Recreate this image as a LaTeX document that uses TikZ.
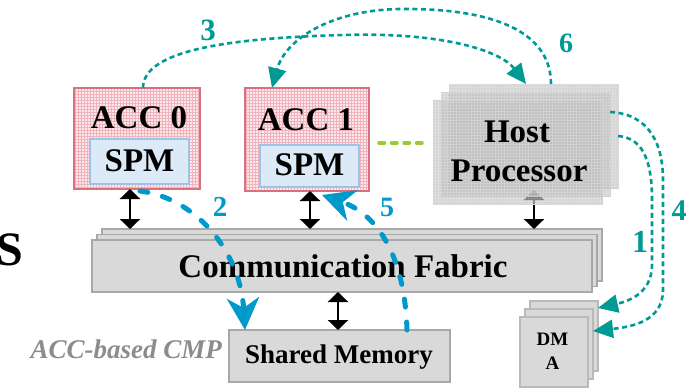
\documentclass[tikz,border=0pt]{standalone}
\usepackage{fontspec}
\setmainfont{Liberation Serif}
\usetikzlibrary{arrows.meta,patterns,calc}

\definecolor{accfill}{HTML}{FCE8EB}
\definecolor{accgrid}{HTML}{F0B2BB}
\definecolor{accedge}{HTML}{D9707E}
\definecolor{spmfill}{HTML}{DCE9F6}
\definecolor{spmedge}{HTML}{9DC3E6}
\definecolor{hostgray}{HTML}{BDBDBD}
\definecolor{hostedge}{HTML}{D0D0D0}
\definecolor{slabfill}{HTML}{D9D9D9}
\definecolor{slabedge}{HTML}{A8A8A8}
\definecolor{tealc}{HTML}{009A94}
\definecolor{bluec}{HTML}{0099CC}
\definecolor{greenc}{HTML}{99CC33}
\definecolor{capgray}{HTML}{8C8C8C}

\begin{document}
\begin{tikzpicture}[x=1pt,y=-1pt,
  box/.style={rectangle, inner sep=0pt, outer sep=0pt},
  acc/.style={box, draw=accedge, line width=1.3pt, preaction={fill=accfill}, pattern=grid, pattern color=accgrid},
  spm/.style={box, draw=spmedge, line width=1.3pt, fill=spmfill},
  hostlayer/.style={box, draw=hostedge, line width=1pt, fill=hostgray, fill opacity=0.63},
  hostgrid/.style={white, line width=0.35pt, opacity=0.2},
  slab/.style={box, draw=slabedge, line width=1.3pt, fill=slabfill},
  big/.style={inner sep=0pt, anchor=base, font=\fontsize{33}{36}\selectfont\bfseries},
  num/.style={inner sep=0pt, font=\fontsize{30}{32}\selectfont\bfseries},
  bidir/.style={line width=2.6pt, {Triangle[length=10pt,width=20pt]}-{Triangle[length=10pt,width=20pt]}},
  ctrl/.style={draw=tealc, line width=2.6pt, dash pattern=on 5pt off 3.5pt, -{Triangle[length=20pt,width=18pt]}},
  data/.style={draw=bluec, line width=5pt, line cap=round, dash pattern=on 8pt off 15pt, -{Stealth[length=32pt 0 0,width=32pt 0,inset=10pt 0]}},
  link/.style={draw=greenc, line width=3.5pt, line cap=round, dash pattern=on 5.5pt off 7pt}
]
\useasboundingbox (0,0) rectangle (688,388);

% accelerators with their scratch-pad memories
\node[acc, minimum width=126pt, minimum height=101pt] (acc0) at (137,138.5) {};
\node[spm, minimum width=99pt, minimum height=45pt] (spm0) at (139.5,161.5) {};
\node[big] (t0) at (139,128) {ACC 0};
\node[big] (ts0) at (139.5,171) {SPM};

\node[acc, minimum width=124pt, minimum height=103pt] (acc1) at (307,139.5) {};
\node[spm, minimum width=99pt, minimum height=42pt] (spm1) at (309.5,166) {};
\node[big] (t1) at (306,130) {ACC 1};
\node[big] (ts1) at (309.5,175) {SPM};

% communication fabric (stacked slabs)
\node[slab, minimum width=500pt, minimum height=52pt] (c3) at (352,255) {};
\node[slab, minimum width=500pt, minimum height=52pt] (c2) at (347,260.5) {};
\node[slab, minimum width=500pt, minimum height=52pt] (c1) at (342,266) {};
\node[big] (tcf) at (343,277) {Communication Fabric};

% shared memory
\node[slab, minimum width=221pt, minimum height=52pt] (shm) at (339.5,356) {};
\node[inner sep=0pt, anchor=base, font=\fontsize{27}{30}\selectfont\bfseries] (tshm) at (339,363) {Shared Memory};

% DMA (stacked)
\node[slab, draw=slabedge!80, minimum width=68pt, minimum height=70pt] (d3) at (564,336) {};
\node[slab, draw=slabedge!80, minimum width=68pt, minimum height=70pt] (d2) at (559,344) {};
\node[slab, draw=slabedge!80, minimum width=68pt, minimum height=70pt] (d1) at (554,352) {};
\node[inner sep=0pt, anchor=base, font=\fontsize{19}{21}\selectfont\bfseries] (tdm) at (552.5,345) {DM};
\node[inner sep=0pt, anchor=base, font=\fontsize{19}{21}\selectfont\bfseries] (ta) at (552.5,369) {A};

% caption and cut-off letter
\node[inner sep=0pt, anchor=base east, font=\fontsize{27}{30}\selectfont\bfseries\itshape, text=capgray] (cap) at (222,358) {ACC-based CMP};
\node[inner sep=0pt, anchor=base east, font=\fontsize{48}{50}\selectfont\bfseries] (tail) at (23,265) {S};

% vertical links to the fabric
\coordinate (xa) at (130,0);
\coordinate (xb) at (310,0);
\coordinate (xc) at (338,0);
\coordinate (xd) at (534,0);
\draw[bidir] (acc0.south -| xa) -- (c3.north -| xa);
\draw[bidir] (acc1.south -| xb) -- (c3.north -| xb);
\draw[bidir] (c1.south -| xc) -- (shm.north -| xc);
\draw[bidir] (534,190) -- (c3.north -| xd);

% host processor (stacked, translucent, gridded)
\foreach \n/\cx/\cy in {h3/533.5/136, h2/525.5/144, h1/517.5/152}{
  \node[hostlayer, minimum width=169pt, minimum height=104pt] (\n) at (\cx,\cy) {};
  \draw[hostgrid, step=3pt] (\n.south west) grid (\n.north east);
}
\node[big] (th1) at (517,142) {Host};
\node[big] (th2) at (519,181) {Processor};

% dotted link between ACC 1 and the host
\coordinate (ylink) at (0,143);
\draw[link, shorten <=10pt, shorten >=9pt] (acc1.east |- ylink) -- (h1.west |- ylink);

% control flow (teal)
\coordinate (w3) at (344,35);
\coordinate (w6) at (400,9);
\coordinate (w1a) at (652,200);
\coordinate (w1b) at (652,265);
\coordinate (w4a) at (663,180);
\coordinate (w4b) at (663,290);
\draw[ctrl] ($(acc0.north)+(6,0)$) .. controls +(0,-38) and +(-114,3) .. (w3)
  .. controls +(96,-3) and +(-26,-34) .. ($(h3.north)+(-7.5,0)$);
\draw[ctrl] ($(h3.north)+(17.5,0)$) .. controls +(0,-54) and +(90,-1) .. (w6)
  .. controls +(-70,1) and +(13,-48) .. ($(acc1.north)+(-35,0)$);
\draw[ctrl] (h3.east) .. controls +(27,2) and +(0,-35) .. (w1a) -- (w1b)
  .. controls +(0,30) and +(27,-6) .. ($(d3.north east)+(0,7)$);
\draw[ctrl] ($(h2.north east)+(0,20)$) .. controls +(40,2) and +(0,-35) .. (w4a) -- (w4b)
  .. controls +(0,32) and +(37,-4) .. ($(d2.north east)+(0,22)$);

% data flow (blue)
\draw[data] ($(acc0.south)+(3,2)$) .. controls +(55,7) and +(-5,-80) .. ($(shm.north west)+(16,0)$);
\draw[data] ($(shm.north east)+(-43,0)$) .. controls +(-2,-70) and +(58,20) .. ($(acc1.south)+(15,4)$);

% step numbers
\node[num, text=tealc, font=\fontsize{31}{33}\selectfont\bfseries] (n3) at (208,30) {3};
\node[num, text=tealc, font=\fontsize{28}{30}\selectfont\bfseries] (n6) at (566,43) {6};
\node[num, text=tealc, font=\fontsize{32}{34}\selectfont\bfseries] (n1) at (640,242) {1};
\node[num, text=tealc] (n4) at (679,211) {4};
\node[num, text=bluec, font=\fontsize{29}{31}\selectfont\bfseries] (n2) at (220,207) {2};
\node[num, text=bluec, font=\fontsize{28}{30}\selectfont\bfseries] (n5) at (387,207) {5};
\end{tikzpicture}
\end{document}
